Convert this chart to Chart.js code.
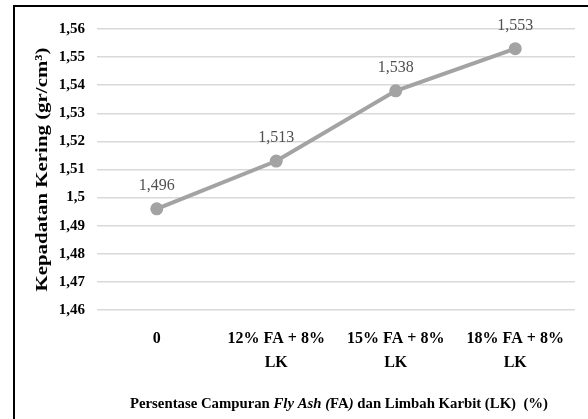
<!DOCTYPE html>
<html>
<head>
<meta charset="utf-8">
<script src="https://cdn.jsdelivr.net/npm/chart.js@4"></script>
<style>
html,body{margin:0;padding:0;background:#fff;}
#wrap{width:588px;height:419px;position:relative;}
</style>
</head>
<body>
<div id="wrap"><canvas id="c" width="588" height="419"></canvas></div>
<script>
const categories = [["0"], ["12% FA + 8%", "LK"], ["15% FA + 8%", "LK"], ["18% FA + 8%", "LK"]];
const densityValues = [1.496, 1.513, 1.538, 1.553];
const yAxisTitle = "Kepadatan Kering (gr/cm\u00B3)";
const xAxisTitleParts = [
  {text: "Persentase Campuran ", italic: false},
  {text: "Fly Ash (", italic: true},
  {text: "FA", italic: false},
  {text: ")", italic: true},
  {text: " dan Limbah Karbit (LK)  (%)", italic: false}
];
const yMin = 1.46, yMax = 1.56, yStep = 0.01;

const SERIF = "'Liberation Serif', 'Times New Roman', serif";
const fmt = v => String(Number(v.toFixed(3))).replace('.', ',');

const framePlugin = {
  id: 'frame',
  afterDraw(chart) {
    const ctx = chart.ctx;
    ctx.save();
    ctx.fillStyle = '#000';
    ctx.fillRect(13, 5, 575, 2);
    ctx.fillRect(13, 5, 2, 414);
    ctx.restore();
  }
};

const labelPlugin = {
  id: 'valueLabels',
  afterDatasetsDraw(chart) {
    const ctx = chart.ctx;
    const meta = chart.getDatasetMeta(0);
    ctx.save();
    ctx.font = "16px " + SERIF;
    ctx.fillStyle = '#505050';
    ctx.textAlign = 'center';
    ctx.textBaseline = 'alphabetic';
    meta.data.forEach((pt, i) => {
      ctx.fillText(fmt(chart.data.datasets[0].data[i]), pt.x, pt.y - 19);
    });
    ctx.restore();
  }
};

const titlesPlugin = {
  id: 'titles',
  afterDraw(chart) {
    const ctx = chart.ctx;
    // x title
    ctx.save();
    const size = 14;
    const fontOf = p => (p.italic ? "italic bold " : "bold ") + size + "px " + SERIF;
    let total = 0;
    xAxisTitleParts.forEach(p => { ctx.font = fontOf(p); total += ctx.measureText(p.text).width; });
    const targetW = 418;
    ctx.translate(339 - targetW / 2, 408);
    ctx.scale(targetW / total, 1);
    ctx.fillStyle = '#000';
    let x = 0;
    xAxisTitleParts.forEach(p => {
      ctx.font = fontOf(p);
      ctx.fillText(p.text, x, 0);
      x += ctx.measureText(p.text).width;
    });
    ctx.restore();
    // y title
    ctx.save();
    ctx.font = "bold 17px " + SERIF;
    const w = ctx.measureText(yAxisTitle).width;
    const targetH = 244;
    const ca = chart.chartArea;
    ctx.translate(43, (ca.top + ca.bottom) / 2);
    ctx.rotate(-Math.PI / 2);
    ctx.scale(targetH / w, 1);
    ctx.fillStyle = '#000';
    ctx.textAlign = 'center';
    ctx.textBaseline = 'middle';
    ctx.fillText(yAxisTitle, 0, 0);
    ctx.restore();
  }
};

new Chart(document.getElementById('c'), {
  type: 'line',
  data: {
    labels: categories,
    datasets: [{
      data: densityValues,
      borderColor: '#A3A3A3',
      backgroundColor: '#A3A3A3',
      borderWidth: 4,
      pointRadius: 4.5,
      pointBackgroundColor: '#A3A3A3',
      pointBorderColor: '#A3A3A3',
      tension: 0,
      clip: false
    }]
  },
  options: {
    responsive: false,
    animation: false,
    devicePixelRatio: 1,
    layout: {padding: {left: 20, top: 29, right: 13, bottom: 0}},
    plugins: {legend: {display: false}, tooltip: {enabled: false}},
    scales: {
      x: {
        offset: true,
        grid: {display: false, drawTicks: false},
        border: {display: false},
        ticks: {
          color: '#000',
          padding: 17,
          maxRotation: 0,
          autoSkip: false,
          font: {family: SERIF, size: 16, weight: 'bold', lineHeight: 1.5}
        },
        afterFit(scale) { scale.height = 109; }
      },
      y: {
        min: yMin, max: yMax,
        grid: {color: '#D9D9D9', lineWidth: 1.5, drawTicks: false},
        border: {display: false},
        ticks: {
          stepSize: yStep,
          color: '#000',
          padding: 12,
          font: {family: SERIF, size: 15, weight: 'bold'},
          callback: v => fmt(v)
        },
        title: {display: false},
        afterFit(scale) { scale.width = 77; }
      }
    }
  },
  plugins: [framePlugin, labelPlugin, titlesPlugin]
});
</script>
</body>
</html>
